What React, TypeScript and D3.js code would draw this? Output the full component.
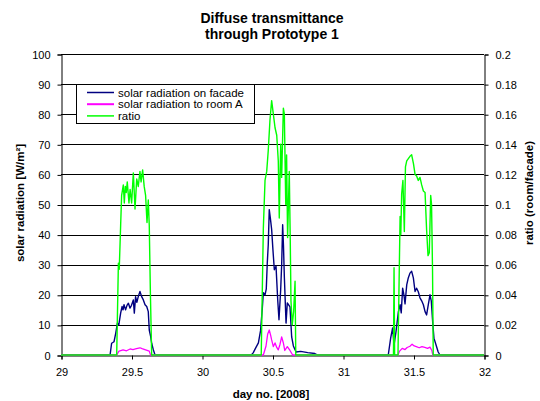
import React, { useEffect, useRef } from 'react';
import * as d3 from 'd3';

// solar radiation on facade [W/m²]
const facadeDays = [
  29, 29.348, 29.359, 29.376, 29.388, 29.4, 29.41, 29.423, 29.433, 29.44, 29.447, 29.458, 29.468, 29.478,
  29.489, 29.5, 29.513, 29.52, 29.529, 29.538, 29.548, 29.56, 29.572, 29.584, 29.596, 29.608, 29.619,
  29.626, 29.636, 29.643, 29.655, 29.667,
  30.35, 30.364, 30.38, 30.4, 30.415, 30.428, 30.435, 30.447, 30.456, 30.463, 30.47, 30.477, 30.486,
  30.494, 30.503, 30.513, 30.525, 30.537, 30.546, 30.558, 30.565, 30.572, 30.578, 30.584, 30.596,
  30.605, 30.624, 30.636, 30.648, 30.667, 30.7, 30.75, 30.8, 30.82,
  31.321, 31.338, 31.352, 31.362, 31.376, 31.393, 31.405, 31.413, 31.423, 31.432, 31.44, 31.452,
  31.463, 31.475, 31.487, 31.499, 31.511, 31.522, 31.534, 31.546, 31.558, 31.57, 31.582, 31.593,
  31.605, 31.617, 31.626, 31.636, 31.645, 31.66, 31.675, 31.688, 32,
];
const facadeValues = [
  0, 0, 3.9, 4.4, 7.2, 10.6, 10, 13.9, 16.1, 15, 16.7, 15, 16.5, 17.2,
  15.6, 16.5, 18.3, 13.9, 19.4, 17.5, 19.4, 21.1, 19.4, 18.3, 16.7, 16.1, 14.4,
  8.3, 6.1, 3.9, 1.7, 0,
  0, 0.8, 2.3, 4, 8, 15.6, 20.7, 20, 22, 30.6, 36.7, 48.3, 45,
  41.7, 35, 28.3, 29.5, 18.3, 11.7, 21.7, 30, 43.3, 36, 26, 10.6,
  17.3, 16, 6, 3, 1, 1.2, 0.8, 0.5, 0,
  0, 5.6, 9, 3.3, 7.8, 14.4, 16.7, 14, 22.2, 20, 17, 23.3,
  25.6, 27.2, 27.8, 25.6, 21.1, 22.2, 21, 19, 18, 16.7, 14.4, 13.3,
  16.7, 20, 18, 11, 5.6, 3.3, 1, 0, 0,
];

// solar radiation to room A [W/m²]
const roomDays = [
  29, 29.395, 29.41, 29.418, 29.44, 29.465, 29.49, 29.51, 29.535, 29.56, 29.575, 29.6, 29.626, 29.635,
  30.435, 30.454, 30.466, 30.477, 30.487, 30.494, 30.506, 30.518, 30.53, 30.541, 30.553, 30.565,
  30.577, 30.587, 30.605, 30.624, 30.643,
  31.39, 31.4, 31.42, 31.44, 31.455, 31.475, 31.49, 31.505, 31.52, 31.54, 31.56, 31.58, 31.6,
  31.617, 31.63, 31.637, 32,
];
const roomValues = [
  0, 0, 1.2, 1.4, 1.7, 1.4, 2, 1.8, 2.1, 2.4, 2.1, 1.7, 1.3, 0,
  0, 3, 7, 8.3, 6.5, 5, 2.8, 4, 2.5, 1.7, 3.5, 6,
  4, 1.5, 2.8, 1.5, 0,
  0, 1.2, 2.2, 1.8, 2.5, 2.9, 3.6, 3, 2.8, 2.4, 2.8, 2.5, 2.2,
  2.6, 1.5, 0, 0,
];

// ratio (room/facade)
const ratioDays = [
  29, 29.395, 29.407, 29.413, 29.423, 29.43, 29.442, 29.449, 29.456, 29.463, 29.47, 29.482, 29.49,
  29.501, 29.513, 29.525, 29.537, 29.548, 29.56, 29.568, 29.579, 29.59, 29.6, 29.61, 29.619, 29.626,
  29.634, 29.643,
  30.42, 30.435, 30.447, 30.459, 30.47, 30.482, 30.494, 30.506, 30.518, 30.53, 30.541, 30.548,
  30.558, 30.565, 30.577, 30.584, 30.594, 30.6, 30.607, 30.619, 30.626, 30.631, 30.64, 30.65,
  30.66, 30.665,
  31.358, 31.362, 31.366, 31.39, 31.398, 31.405, 31.41, 31.416, 31.425, 31.435, 31.443, 31.452,
  31.475, 31.487, 31.5, 31.511, 31.522, 31.534, 31.546, 31.558, 31.57, 31.582, 31.593, 31.603,
  31.612, 31.622, 31.628, 31.635, 31.64, 32,
];
const ratioValues = [
  0, 0, 0.061, 0.057, 0.086, 0.106, 0.113, 0.101, 0.112, 0.108, 0.115, 0.101, 0.11,
  0.101, 0.121, 0.097, 0.117, 0.112, 0.122, 0.115, 0.123, 0.112, 0.106, 0.088, 0.103, 0.086,
  0.041, 0,
  0, 0.084, 0.116, 0.122, 0.136, 0.156, 0.169, 0.16, 0.151, 0.146, 0.129, 0.091,
  0.14, 0.118, 0.164, 0.16, 0.1, 0.133, 0.078, 0.122, 0.076, 0.036, 0.02, 0.029,
  0.049, 0,
  0, 0.058, 0, 0, 0.05, 0.092, 0.08, 0.107, 0.116, 0.082, 0.125, 0.129,
  0.132, 0.133, 0.127, 0.12, 0.119, 0.116, 0.118, 0.113, 0.109, 0.108, 0.083, 0.066,
  0.068, 0.106, 0.1, 0.056, 0, 0,
];

const dayTicks = [29, 29.5, 30, 30.5, 31, 31.5, 32];
const radiationTicks = [0, 10, 20, 30, 40, 50, 60, 70, 80, 90, 100];
const ratioTicks = [0, 0.02, 0.04, 0.06, 0.08, 0.1, 0.12, 0.14, 0.16, 0.18, 0.2];

const legendItems = [
  { label: 'solar radiation on facade', color: '#000080', width: 1.5 },
  { label: 'solar radiation to room A', color: '#ff00ff', width: 2 },
  { label: 'ratio', color: '#00ff00', width: 1.5 },
];

const FONT = '"Liberation Sans", Arial, sans-serif';

const App = () => {
  const ref = useRef<SVGSVGElement | null>(null);

  useEffect(() => {
    const width = 540;
    const height = 401;
    const margin = { top: 54, right: 56, bottom: 46, left: 61 };

    const svg = d3.select(ref.current);
    svg.selectAll('*').remove();
    svg.attr('width', width).attr('height', height);

    const x = d3.scaleLinear().domain([29, 32]).range([margin.left, width - margin.right]);
    const y = d3.scaleLinear().domain([0, 100]).range([height - margin.bottom, margin.top]);
    const y2 = d3.scaleLinear().domain([0, 0.2]).range([height - margin.bottom, margin.top]);

    // Gridlines
    svg.append('g')
      .selectAll('line')
      .data(radiationTicks.slice(1))
      .enter().append('line')
      .attr('x1', margin.left)
      .attr('x2', width - margin.right)
      .attr('y1', d => Math.round(y(d)) + 0.5)
      .attr('y2', d => Math.round(y(d)) + 0.5)
      .attr('stroke', '#000')
      .attr('stroke-width', 1);

    // Left axis
    const left = svg.append('g')
      .attr('transform', `translate(${margin.left + 0.5},0.5)`)
      .call(d3.axisLeft(y).tickValues(radiationTicks).tickSizeOuter(0).tickSize(4).tickPadding(7));

    // Right axis
    const right = svg.append('g')
      .attr('transform', `translate(${width - margin.right + 0.5},0.5)`)
      .call(d3.axisRight(y2).tickValues(ratioTicks).tickSizeOuter(0).tickSize(4).tickPadding(7)
        .tickFormat(d => String(+(+d).toFixed(2))));

    // Bottom axis
    const bottom = svg.append('g')
      .attr('transform', `translate(0.5,${height - margin.bottom + 0.5})`)
      .call(d3.axisBottom(x).tickValues(dayTicks).tickSizeOuter(0).tickSize(4).tickPadding(9)
        .tickFormat(d => String(d)));

    [left, right, bottom].forEach(g => {
      g.selectAll('text').attr('font-family', FONT).attr('font-size', 11).attr('fill', '#000');
      g.selectAll('line').attr('stroke', '#000');
      g.select('.domain').attr('stroke', '#000');
    });

    // Series
    const lineFacade = d3.line<number>()
      .x((d, i) => x(facadeDays[i]))
      .y(d => y(d));
    const lineRoom = d3.line<number>()
      .x((d, i) => x(roomDays[i]))
      .y(d => y(d));
    const lineRatio = d3.line<number>()
      .x((d, i) => x(ratioDays[i]))
      .y(d => y2(d));

    svg.append('path')
      .datum(facadeValues)
      .attr('d', lineFacade)
      .attr('fill', 'none')
      .attr('stroke', '#000080')
      .attr('stroke-width', 1.4)
      .attr('stroke-linejoin', 'round');

    svg.append('path')
      .datum(roomValues)
      .attr('d', lineRoom)
      .attr('fill', 'none')
      .attr('stroke', '#ff00ff')
      .attr('stroke-width', 1.3)
      .attr('stroke-linejoin', 'round');

    svg.append('path')
      .datum(ratioValues)
      .attr('d', lineRatio)
      .attr('fill', 'none')
      .attr('stroke', '#00ff00')
      .attr('stroke-width', 1.4)
      .attr('stroke-linejoin', 'round');

    // Titles
    const title = svg.append('text')
      .attr('text-anchor', 'middle')
      .attr('font-family', FONT)
      .attr('font-size', 14)
      .attr('font-weight', 'bold');
    title.append('tspan').attr('x', 272).attr('y', 23).text('Diffuse transmittance');
    title.append('tspan').attr('x', 272).attr('y', 39).text('through Prototype 1');

    svg.append('text')
      .attr('x', 271)
      .attr('y', 398)
      .attr('text-anchor', 'middle')
      .attr('font-family', FONT)
      .attr('font-size', 11.5)
      .attr('font-weight', 'bold')
      .text('day no. [2008]');

    svg.append('text')
      .attr('transform', 'translate(24,203) rotate(-90)')
      .attr('text-anchor', 'middle')
      .attr('font-family', FONT)
      .attr('font-size', 11.5)
      .attr('font-weight', 'bold')
      .text('solar radiation [W/m²]');

    svg.append('text')
      .attr('transform', 'translate(533,193) rotate(-90)')
      .attr('text-anchor', 'middle')
      .attr('font-family', FONT)
      .attr('font-size', 11.5)
      .attr('font-weight', 'bold')
      .text('ratio (room/facade)');

    // Legend
    const legend = svg.append('g').attr('transform', 'translate(76,84)');
    legend.append('rect')
      .attr('x', 0.5)
      .attr('y', 0.5)
      .attr('width', 178)
      .attr('height', 39)
      .attr('fill', '#fff')
      .attr('stroke', '#000');

    const rows = legend.selectAll('.row')
      .data(legendItems)
      .enter().append('g')
      .attr('class', 'row')
      .attr('transform', (d, i) => `translate(0,${8.5 + i * 11.7})`);
    rows.append('line')
      .attr('x1', 11)
      .attr('x2', 38)
      .attr('stroke', d => d.color)
      .attr('stroke-width', d => d.width);
    rows.append('text')
      .attr('x', 42)
      .attr('y', 4)
      .attr('font-family', FONT)
      .attr('font-size', 11.5)
      .text(d => d.label);
  }, []);

  return (
    <svg ref={ref} style={{ position: 'absolute', left: 0, top: 0, background: '#fff' }} />
  );
};

export default App;
